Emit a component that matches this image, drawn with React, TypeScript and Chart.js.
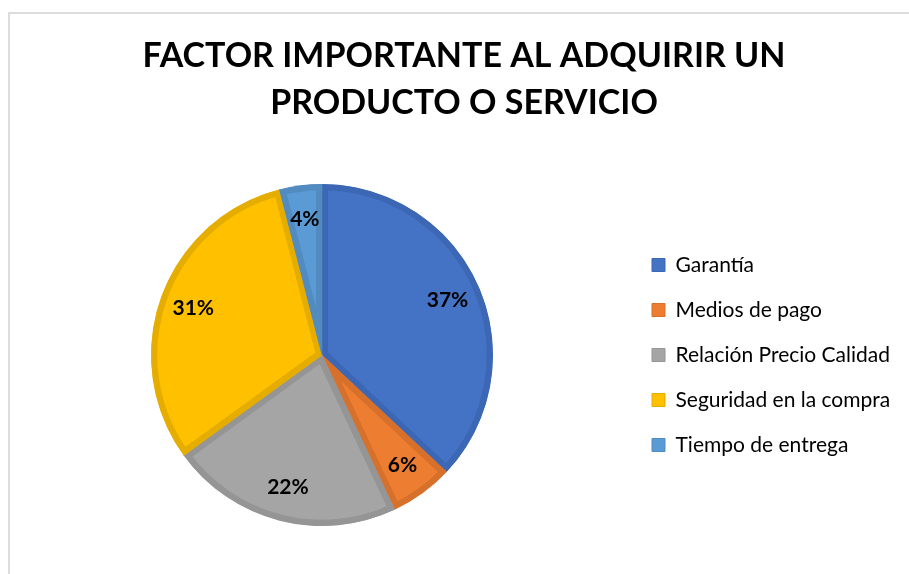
import React, { useEffect, useRef } from "react";
import { Chart, registerables } from "chart.js";

Chart.register(...registerables);

const TITLE_LINES = ["FACTOR IMPORTANTE AL ADQUIRIR UN", "PRODUCTO O SERVICIO"];
const CATEGORIES = [
  "Garantía",
  "Medios de pago",
  "Relación Precio Calidad",
  "Seguridad en la compra",
  "Tiempo de entrega",
];
const VALUES = [37, 6, 22, 31, 4];
const FILL_COLORS = ["#4472C4", "#ED7D31", "#A5A5A5", "#FFC000", "#5B9BD5"];
const BORDER_COLORS = ["#3C67B4", "#D6702B", "#959595", "#E5AD00", "#518BC0"];

const FONT = "Lato, 'Open Sans', sans-serif";
const CANVAS_W = 928;
const CANVAS_H = 574;
const LEGEND_W = 284;

const pieLabels = {
  id: "pieLabels",
  afterDatasetsDraw(chart: any) {
    const ctx = chart.ctx;
    const meta = chart.getDatasetMeta(0);
    ctx.save();
    ctx.font = `bold 21px ${FONT}`;
    ctx.fillStyle = "#000000";
    ctx.textAlign = "center";
    ctx.textBaseline = "middle";
    meta.data.forEach((arc: any, i: number) => {
      const p = arc.getProps(["x", "y", "startAngle", "endAngle", "outerRadius"], true);
      const mid = (p.startAngle + p.endAngle) / 2;
      const r = p.outerRadius * 0.8;
      ctx.fillText(`${VALUES[i]}%`, p.x + Math.cos(mid) * r, p.y + Math.sin(mid) * r);
    });
    ctx.restore();
  },
};

const fixedLegendWidth = {
  id: "fixedLegendWidth",
  beforeLayout(chart: any) {
    const lg = chart.legend;
    if (lg && !lg.__fixed) {
      const orig = lg.fit;
      lg.fit = function () {
        orig.call(this);
        this.width = LEGEND_W;
      };
      lg.__fixed = true;
    }
  },
};

export default function App() {
  const canvasRef = useRef<HTMLCanvasElement | null>(null);

  useEffect(() => {
    if (!canvasRef.current) return;
    const chart = new Chart(canvasRef.current, {
      type: "pie",
      data: {
        labels: CATEGORIES,
        datasets: [
          {
            data: VALUES,
            backgroundColor: FILL_COLORS,
            borderColor: BORDER_COLORS,
            borderWidth: 6,
            borderAlign: "inner",
            hoverOffset: 0,
          },
        ],
      },
      options: {
        responsive: false,
        animation: false,
        layout: { padding: { top: 0, bottom: 48, left: 16, right: 16 } },
        plugins: {
          title: {
            display: true,
            text: TITLE_LINES,
            color: "#000000",
            font: { family: FONT, size: 34, weight: "bold", lineHeight: "47px" },
            padding: { top: 33, bottom: 57 },
          },
          legend: {
            display: true,
            position: "right",
            align: "center",
            fullSize: false,
            labels: {
              boxWidth: 13,
              boxHeight: 13,
              padding: 24,
              color: "#000000",
              font: { family: FONT, size: 21 },
              generateLabels(chart: any) {
                const base = (Chart as any).overrides.pie.plugins.legend.labels.generateLabels(chart);
                return base.map((l: any) => ({ ...l, lineWidth: 1 }));
              },
            },
          },
          tooltip: { enabled: false },
        },
      },
      plugins: [pieLabels, fixedLegendWidth],
    } as any);
    return () => chart.destroy();
  }, []);

  return (
    <div
      style={{
        position: "fixed",
        left: 0,
        top: 0,
        width: 909,
        height: 574,
        overflow: "hidden",
        background: "#ffffff",
      }}
    >
      <div
        style={{
          position: "absolute",
          left: 8,
          top: 12,
          width: 2000,
          height: 2000,
          borderTop: "2px solid #DCDCDC",
          borderLeft: "2px solid #DCDCDC",
        }}
      />
      <canvas
        ref={canvasRef}
        width={CANVAS_W}
        height={CANVAS_H}
        style={{ position: "absolute", left: 0, top: 0, width: CANVAS_W, height: CANVAS_H }}
      />
    </div>
  );
}
